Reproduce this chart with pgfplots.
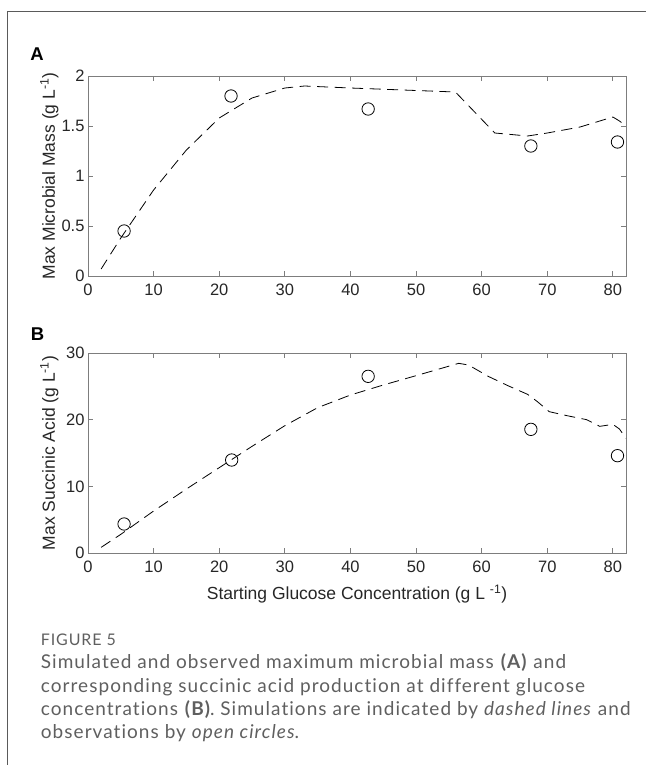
\documentclass[border=0pt]{standalone}
\usepackage{fontspec}
\setmainfont{Liberation Sans}
\newfontfamily\capfont{Lato}[LetterSpace=5.5, Ligatures={NoCommon}]
\usepackage{pgfplots}
\pgfplotsset{compat=1.18}
\definecolor{axgray}{RGB}{125,125,125}
\definecolor{txt}{RGB}{38,38,38}
\definecolor{capgray}{RGB}{95,95,95}
\definecolor{framegray}{RGB}{90,90,90}

\pgfplotsset{panel/.style={
  scale only axis, width=538pt, height=200pt,
  xmin=0, xmax=82, xtick={0,10,...,80},
  axis line style={axgray, line width=0.8pt},
  tick style={axgray, line width=0.8pt},
  major tick length=5pt, tick align=inside,
  tick label style={font=\fontsize{16.5}{16.5}\selectfont, color=txt},
  xticklabel style={yshift=-4pt},
  label style={font=\fontsize{17.5}{17.5}\selectfont, color=txt},
  /pgf/number format/assume math mode=true,
  ylabel style={at={(axis description cs:-0.072,0.5)}, anchor=center},
  sim/.style={black, line width=0.8pt, dash pattern=on 11pt off 6.5pt},
  obs/.style={only marks, mark=o, mark size=6.2pt, black, line width=0.8pt},
}}

\begin{document}
\begin{tikzpicture}
\path[use as bounding box] (0,0) rectangle (646pt,-765pt);
\draw[framegray, line width=1.3pt] (7.3pt,-765pt) -- (7.3pt,-11.7pt) -- (646pt,-11.7pt);

\node[font=\fontsize{18.5}{18.5}\selectfont\bfseries, anchor=center] at (37pt,-54pt) {A};
\node[font=\fontsize{18.5}{18.5}\selectfont\bfseries, anchor=center] at (37.5pt,-334pt) {B};

% panel A
\begin{axis}[panel, at={(88pt,-276pt)}, anchor=south west,
  ymin=0, ymax=2, ytick={0,0.5,1,1.5,2},
  ylabel={Max Microbial Mass (g L\textsuperscript{-1})}]
\addplot[sim] coordinates {
  (2,0.07) (5,0.38) (10,0.86) (15,1.26) (20,1.58) (25,1.78) (30,1.88)
  (33,1.90) (40,1.88) (50,1.855) (56,1.84) (62,1.43) (67,1.40) (70,1.43)
  (75,1.49) (80,1.59) (81,1.55) (82,1.50)};
\addplot[obs] coordinates {
  (5.5,0.45) (21.8,1.80) (42.7,1.67) (67.5,1.30) (80.7,1.34)};
\end{axis}

% panel B
\begin{axis}[panel, at={(88pt,-553pt)}, anchor=south west,
  ymin=0, ymax=30, ytick={0,10,20,30},
  ylabel={Max Succinic Acid (g L\textsuperscript{-1})},
  xlabel={Starting Glucose Concentration (g L \textsuperscript{-1})},
  xlabel style={at={(axis description cs:0.5,-0.205)}, anchor=center}]
\addplot[sim] coordinates {
  (2,0.85) (5,2.8) (10,6.3) (15,9.6) (20,12.8) (25,16.0) (30,19.1)
  (35,21.8) (40,23.7) (45,25.2) (50,26.6) (56.5,28.45) (58,28.2)
  (61,26.5) (64,25.1) (67,23.8) (68.5,22.7) (70.3,21.2) (73,20.6)
  (76,20.0) (78,19.0) (80,19.3) (81,18.6) (82,17.2)};
\addplot[obs] coordinates {
  (5.5,4.35) (21.9,13.95) (42.7,26.5) (67.5,18.55) (80.7,14.6)};
\end{axis}

% caption
\begin{scope}[every node/.style={anchor=base west, inner sep=0pt, color=capgray}]
\node[font=\capfont\fontsize{16}{16}\selectfont] at (40.7pt,-645pt) {FIGURE 5};
\node[font=\capfont\fontsize{19}{19}\selectfont] at (40.7pt,-668pt)
  {Simulated and observed maximum microbial mass \textbf{(A)} and};
\node[font=\capfont\fontsize{19}{19}\selectfont] at (40.7pt,-692pt)
  {corresponding succinic acid production at different glucose};
\node[font=\capfont\fontsize{19}{19}\selectfont] at (40.7pt,-715pt)
  {concentrations \textbf{(B)}. Simulations are indicated by \textit{dashed lines} and};
\node[font=\capfont\fontsize{19}{19}\selectfont] at (40.7pt,-738pt)
  {observations by \textit{open circles}.};
\end{scope}
\end{tikzpicture}
\end{document}
